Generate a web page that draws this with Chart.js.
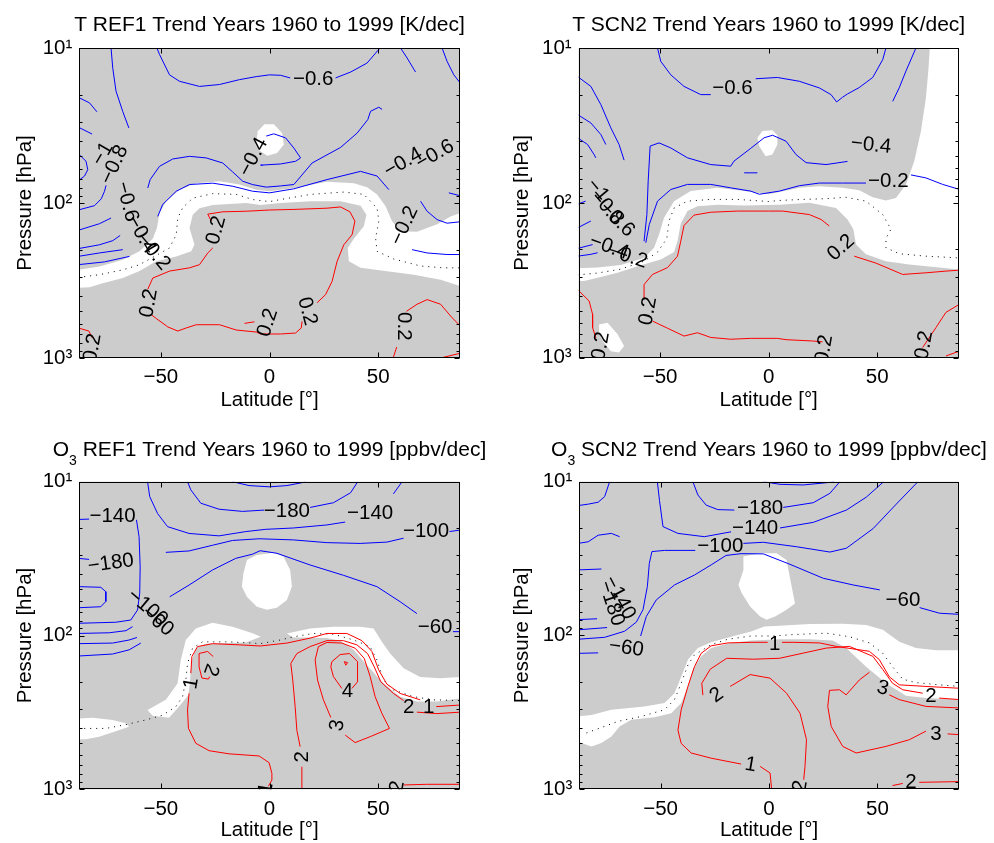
<!DOCTYPE html>
<html>
<head>
<meta charset="utf-8">
<script src="https://cdn.jsdelivr.net/npm/chart.js@4.4.0/dist/chart.umd.min.js"></script>
<style>
body{margin:0;background:#fff;width:994px;height:843px;position:relative;overflow:hidden}
canvas{position:absolute}
</style>
</head>
<body>
<canvas id="pA" width="497" height="420" style="left:0;top:0"></canvas>
<canvas id="pB" width="497" height="420" style="left:497px;top:0"></canvas>
<canvas id="pC" width="497" height="423" style="left:0;top:420px"></canvas>
<canvas id="pD" width="497" height="423" style="left:497px;top:420px"></canvas>
<script>
// axes
const latTicks = [-50, 0, 50];
const presTicks = [10, 100, 1000];
const presMinor = [20,30,40,50,60,70,80,90,200,300,400,500,600,700,800,900];
const latMin = -87.5, latMax = 87.5;

// ---------- T REF1 (K/dec) : [lat, hPa] ----------
const tRefWhite = [
  [[-88,270],[-78.2,257],[-67.5,232],[-59.8,205],[-53.7,170],[-51.8,145],[-50.6,116],[-47.5,97.5],[-41.4,82],[-33.7,74.5],[-23,72.4],[-13.8,76],[-6.1,82],[0,84],[11.2,80],[26.5,73],[38.8,74.5],[44.9,79],[49.5,88],[53.4,105],[56.4,131],[60.3,152],[67.9,153],[77.1,137],[83.3,122],[88,116],[88,345],[78.7,313],[66.4,290],[54.1,276],[41.9,262],[36.5,238],[36,195],[38.8,170],[43.4,141],[44.6,119],[41.9,104],[32.7,97.5],[18.9,97.5],[5.1,100],[-4.1,103],[-10.7,100],[-26.1,103],[-32.2,108],[-35.3,119],[-36.8,145],[-34.5,186],[-36,205],[-42.9,221],[-52.1,238],[-59.8,275],[-67.5,305],[-76.7,330],[-82.8,350],[-88,353]],
  [[-5.4,34.4],[-2.3,31],[2,31],[5.8,35.3],[6.6,42],[3.5,47.6],[-1,49.5],[-4.5,46],[-6,40]]
];
const tRefZero = [[-88,302],[-78.2,290],[-67.5,270],[-59.8,250],[-52.9,221],[-46,195],[-42.9,160],[-42.2,125],[-39.9,107],[-35.3,93],[-26.1,87],[-15.3,88],[-7.7,95],[0,98],[5.1,95],[18.9,88],[34.2,85],[43.4,88],[49.5,108],[50.3,131],[48.8,168],[49.5,205],[57.2,230],[69.5,255],[80.2,262],[88,262]];
const tRefNeg = [
  [[-72.9,10],[-72.1,13.5],[-70.6,19],[-67.5,25.7],[-64.7,32.8]],
  [[-51.8,10],[-50.6,11],[-46,14.9],[-41.4,16.4],[-32.2,17.7],[-23,17.2],[-13.8,16],[-6.1,15.3],[0,14.9],[5.1,15],[9.5,15.6]],
  [[30.4,15.6],[37.3,14.3],[44.9,12.5],[50.3,10.2],[51,10]],
  [[60.3,10],[63.3,11.6],[67.2,14.3]],
  [[79.4,10],[81.7,12.2],[84.8,14.9],[88,17]],
  [[-88,20.8],[-82.8,22.6],[-79.4,25.8]],
  [[-88,32.4],[-81.6,35.9]],
  [[-88,48],[-84.4,53.8],[-83.6,61],[-85.1,67],[-88,72]],
  [[-88,111],[-80.5,104],[-77.4,94],[-75.9,84],[-75.2,77]],
  [[-88,150],[-78.2,136],[-72.9,125]],
  [[-88,197],[-78.2,186],[-72.1,175],[-68.7,162]],
  [[-88,221],[-78.2,210],[-67.5,200]],
  [[-88,250],[-76,240],[-64.4,221]],
  [[-56,80],[-54.9,70.6],[-50.6,58],[-44.5,52],[-36.8,50],[-29.1,51.2],[-21.5,55.2],[-16.9,63.1],[-12.3,72.4],[-7.7,76.1],[-1.5,79],[5.1,77.6],[11.2,76],[19.6,55.2],[32.7,43.8],[40.3,35.4],[45.2,29],[46.5,25.6],[50.3,24.1],[51.8,24.9]],
  [[-3.1,57],[-4.1,57],[5.1,56],[12,53.8],[14.3,51.2],[11.2,44.2],[7.4,38],[2,35.8],[-1.5,37]],
  [[-51.4,122],[-49.1,102],[-42.9,84],[-36.8,76],[-26.1,74.5],[-16.9,78],[-7.7,84],[0,86],[11.2,81],[26.5,70.6],[41.9,62.5],[49.5,67],[54.9,82]],
  [[82.5,86],[88,90]],
  [[69.5,97.5],[72.5,113],[77.1,128],[81.7,135],[88,132]],
  [[65.6,200],[72.5,210],[81.7,215],[88,215]]
];
const tRefPos = [
  [[-26.8,131],[-28.4,118],[-21.5,114],[-10.7,113],[0,111],[11.2,110],[26.5,108],[32.7,106],[37,114],[39.3,131],[38,160],[34.2,186],[31.1,238],[28.8,320],[25.8,390],[21.9,440]],
  [[15,580],[14.6,640],[12,690],[5.1,700],[-4.1,700],[-6.1,680],[-15.3,660],[-23,610],[-33.7,610],[-38.3,640],[-42.2,670],[-46.8,630],[-52.1,556],[-54.4,525]],
  [[-56,360],[-53.7,305],[-46,275],[-36.8,262],[-32.2,250],[-28.4,210],[-26.1,195]],
  [[-11.5,598],[-6.9,584]],
  [[-88,640],[-83.1,670],[-81.6,740]],
  [[56.9,1000],[58.5,850]],
  [[63,500],[67.9,450],[72.5,420],[78.7,450],[84,550],[88,625]],
  [[78.7,1000],[88,930]]
];
const tRefLabels = [
  ['\u22120.6',20.1,16,0],['\u22121',-76.7,48.3,-60],['\u22120.8',-71.3,56.6,-65],['\u22120.6',-65.6,98,75],
  ['\u22120.4',-59,160,60],['\u22120.2',-53.4,207,50],['\u22120.4',-7.4,50.6,-62],['0.2',-24.5,150,-75],
  ['0.2',-55.5,443,-80],['0.2',-0.8,592,-72],['0.2',17.3,500,75],['0.2',-81.3,860,-80],['0.2',61.5,625,90],
  ['\u22120.4',61.5,55,-30],['\u22120.6',76.1,48.8,-30],['\u22120.2',62.1,140,-65]
];

// ---------- T SCN2 (K/dec) ----------
const tScnWhite = [
  [[-88,265],[-78.8,262],[-68.1,252],[-57.4,227],[-52.8,195],[-50.5,160],[-48.2,125],[-43.6,97.5],[-35.9,84],[-23.6,80],[-11.3,84],[0,88],[4.9,85],[14.1,80],[23.3,78],[34,80],[41.7,83],[47.9,92],[54,96.5],[58.6,93],[63.2,76],[67,54],[70.1,34.5],[72.4,21],[73.6,13.5],[74.2,10],[88,10],[88,270],[78.5,262],[64.7,250],[54,238],[44.8,215],[40.2,186],[39,148],[36.3,128],[31,108],[18.7,100],[4.9,103],[-11.3,104],[-23.6,103],[-32.8,105],[-37.4,113],[-40.5,136],[-42,177],[-43.6,208],[-49.7,232],[-60.4,257],[-69.6,283],[-78.8,305],[-85,320],[-88,320]],
  [[-5.2,38],[-2.9,34.4],[1.7,34],[4,36.6],[4,42],[1.7,48.8],[-1.4,50],[-4.4,43]],
  [[-78.1,610],[-74.2,595],[-69.6,706],[-66.6,840],[-68.9,925],[-72.7,910],[-76.5,780],[-78.1,675]]
];
const tScnZero = [[-88,292],[-78.8,284],[-68.1,268],[-57.4,238],[-51.2,208],[-46.9,170],[-45.9,131],[-43.6,108],[-37.4,97.5],[-26.7,95],[-14.4,95],[0,98],[4.9,96.5],[15.6,95],[26.4,94],[35.6,92],[44.8,97.5],[52.5,119],[56.3,148],[54,170],[54,195],[60.1,213],[72.4,221],[88,227]];
const tScnNeg = [
  [[-51.2,10],[-49.7,12.2],[-45.1,14.9],[-39,17.7],[-31.3,20],[-26.7,20]],
  [[-6,15.8],[4,15.5],[14.1,16.4],[23.3,18.1],[28.7,20],[31.3,22.3],[34,20.8],[36.3,19.8],[41.7,18],[47.9,15.5],[52.5,11.9],[54,10]],
  [[67.8,10],[63.2,14.1],[60.1,18.1],[57.1,22.1]],
  [[-88,15.3],[-81.9,17.7],[-77.3,23.2],[-72.7,32.8],[-68.9,42],[-66.6,53]],
  [[-88,26.9],[-81.9,30.5],[-77.3,36.2],[-75,42]],
  [[-88,38],[-83.4,42],[-80.4,48.8],[-79.6,51.2]],
  [[-88,102],[-84.3,97.5]],
  [[-88,145],[-81.9,131]],
  [[-88,197],[-81.1,186]],
  [[-88,221],[-81.9,215],[-78.8,210]],
  [[-57.4,177],[-56.1,119],[-55.5,72.4],[-54.6,43],[-50.5,41],[-45.1,44.2],[-37.4,51.2],[-26.7,56.6],[-17.5,58],[-16,53.8],[-8.3,44.5],[-2.1,38],[1.8,36.6],[8,40],[12.6,48.8],[17.2,55],[26.4,56.6],[36.3,54]],
  [[-11.3,64],[-5.2,64]],
  [[-56.6,181],[-55,138],[-51.2,97.5],[-45.1,82],[-37.4,76],[-26.7,76],[-17.5,80],[-8.3,84],[-4.3,88],[4.9,84],[14.1,77.5],[23.3,74.5],[34,74.5],[44.8,74.5]],
  [[65.5,66],[72.4,69],[80.1,76],[88,82]]
];
const tScnPos = [
  [[-88,363],[-82.7,430],[-81.1,525],[-81.1,640],[-79.6,745]],
  [[-57.4,420],[-57.4,337],[-53.5,290],[-46.6,262],[-42,221],[-40.5,177],[-39,140],[-34.4,120],[-26.7,115],[-14.4,113],[0,113],[6.4,113],[18.7,119],[24.1,128],[27.9,141]],
  [[39.4,221],[49.4,245],[61.7,290],[72.4,283],[81.6,276],[88,272]],
  [[-53.5,580],[-46.6,645],[-39,725],[-32.8,690],[-26.7,740],[-17.5,760],[-8.3,750],[4,750],[8,765],[20.2,780],[24.8,790]],
  [[70.9,860],[77,640],[81.6,510],[88,450]],
  [[81.6,975],[88,905]]
];
const tScnLabels = [
  ['\u22120.6',-16.7,18.3,0],['\u22120.4',47.1,42.5,6],['\u22120.2',55.1,72.4,0],
  ['\u22121',-78.8,83,50],['\u22120.8',-74.5,107,50],['\u22120.6',-69.9,128,45],
  ['\u22120.4',-73.5,193,20],['\u22120.2',-65,222,18],
  ['0.2',-55.5,500,-80],['0.2',33.3,195,-42],['0.2',-77.3,840,-80],['0.2',25.6,880,-80],['0.2',71.6,830,-80]
];

// ---------- O3 REF1 (ppbv/dec) ----------
const oRefWhite = [
  [[-88,347],[-81.4,342],[-72.2,354],[-66.1,372],[-64.6,392],[-70.7,420],[-78.4,455],[-84.5,473],[-88,473]],
  [[-56.1,305],[-47.7,262],[-42.3,205],[-40.8,144],[-38.5,107],[-33.9,90],[-26.2,82.5],[-17,87.6],[-7.8,96.8],[-4,102],[-10.9,111],[-20.1,112],[-29.3,113],[-33.9,121],[-35.9,148],[-36.5,195],[-37.3,244],[-41.6,290],[-46.2,342],[-53.8,333]],
  [[8,97],[18.7,90],[29.4,87.6],[41.7,87.6],[47.9,90],[51.7,110],[55.5,131],[61.7,163],[69.3,186],[78.5,190],[88,186],[88,256],[77,269],[67.8,269],[60.1,250],[52.5,205],[44.8,156],[38.7,124],[32.5,108],[26.4,104],[18.7,103],[11,103]],
  [[-10.4,32.3],[-5.8,30],[1.8,29],[6.4,30.7],[9.5,37.5],[10.3,48.1],[8,58.8],[3.4,66],[-1.2,68],[-5.8,65],[-10.4,56],[-12.7,48.1],[-12,39.4]]
];
const oRefZero = [[-88,402],[-75.3,402],[-66.1,380],[-56.9,354],[-49.2,330],[-43.1,290],[-40,250],[-38.5,195],[-37.7,152],[-35.4,121],[-30.8,110],[-18.6,110],[-7.8,112],[-4.3,113],[4.9,107],[11,102],[20.2,97],[29.4,98],[38.7,107],[46.3,118],[49.4,144],[52.5,195],[57,226],[66.3,250],[75.5,262],[88,265]];
const oRefNeg = [
  [[-88,17.6],[-83,17.5]],
  [[-61.2,17.7],[-60,22.8],[-59.5,35.7],[-59.7,53],[-60.7,68.2],[-63.8,79.3],[-70.7,82],[-88,83.3]],
  [[-88,31.5],[-83,32]],
  [[-88,48.1],[-77.6,48.6],[-75.3,51.9],[-75.3,60],[-77.6,65],[-88,66]],
  [[-88,97],[-73.7,96],[-66,93],[-63,87.6]],
  [[-88,113],[-72.2,112],[-64.6,107],[-61,103]],
  [[-88,136],[-72.2,132],[-64.6,124],[-59.2,112]],
  [[-45.9,56],[-37,47],[-26.2,37.5],[-15.5,31.5],[-7.8,29.6],[-4.3,28.1],[3.4,29.2],[18.7,34.8],[34,40.6],[49.4,48.1],[60.1,60.3],[67.8,72]],
  [[84.4,94.4],[88,94.4]],
  [[-47.7,28.8],[-37,28.2],[-26.2,25.9],[-17,24.1],[-4.8,23.5],[11,23.9],[26.4,24.9],[41.7,25.2],[54,24.7],[61.7,23.3]],
  [[82.8,21.1],[88,20.6]],
  [[-56.1,10],[-55.1,12.5],[-51.5,16.1],[-46.9,19.6],[-37,21.7],[-23.2,22.5],[-10.9,21.1],[-1.7,20.4],[11,20],[26.4,19.1],[34.8,18.3]],
  [[57,12],[61,10]],
  [[-37.7,10],[-36.2,11.3],[-31.6,13.8],[-23.2,15.1],[-12.4,15.6],[-2.5,15.3]],
  [[18.7,14.7],[29.4,13.7],[37.3,11.8],[40.6,10]],
  [[-17,10],[-9.4,10.6],[0,10.8],[8,10.6],[15.6,10.1],[16.5,10]]
];
const oRefPos = [
  [[-0.5,955],[1.1,870],[1.1,787],[-0.2,671],[-4.8,607],[-18.6,588],[-27.8,561],[-33.9,502],[-37.3,401],[-37.7,305],[-37,238]],
  [[-36.2,176],[-35.7,137],[-33.1,118],[-26.2,113],[-14,115],[-4.3,117],[8,112],[18.7,104],[26.4,97],[35.6,97],[42.5,108],[47.1,127],[50.2,167],[54,207],[60.1,238],[69.3,262]],
  [[76.7,290],[88,283]],
  [[14.9,1000],[14.9,713]],
  [[14.1,528],[12.6,414],[11.8,290],[10.7,195],[9.8,152],[12.6,131],[18.7,118],[26.4,108],[34,108],[40.2,115],[45.1,131],[48.2,160],[51.2,200],[57,238],[61.7,265]],
  [[67.8,315],[77,322],[88,315]],
  [[28.2,341],[24.8,262],[22.1,195],[21,144],[22.5,118],[26.4,111],[33.3,112],[39.4,121],[43.6,141],[46.3,185],[48.6,250],[51.7,321],[55.2,402],[46.3,455],[39.4,497],[34.8,444]],
  [[37.9,221],[40.5,200],[40.5,148],[36.8,131],[32.5,133],[28.7,148],[28.2,160],[29.4,185],[33.3,221]],
  [[34.4,148],[35.9,150],[35.1,156],[34.4,148]],
  [[-27.5,185],[-28.1,192],[-31.1,189],[-32.4,160],[-32.4,131],[-28.5,127],[-25.9,137]],
  [[61.7,937],[72.4,928],[88,928]]
];
const oRefLabels = [
  ['\u2212140',-72.2,16.7,0],['\u2212180',-73,34,-8],['\u2212100',-56.1,66,40],['\u221260',-51.5,81,40],
  ['\u2212180',8,15.6,0],['\u2212140',46.3,16.1,0],['\u2212100',72,21,0],['\u221260',76.2,88.5,0],
  ['1',-35.9,205,-80],['2',-27,167,110],['4',35.9,232,0],['3',31.3,384,-80],['2',14.9,614,-90],
  ['2',64,292,0],['1',73.2,292,0],['1',-1.5,985,-80],['2',58.9,960,-80]
];

// ---------- O3 SCN2 (ppbv/dec) ----------
const oScnWhite = [
  [[-11.8,30.7],[-4.1,29.2],[3.5,29.2],[8.1,32.3],[9.7,42.5],[12,62],[8.1,68.2],[2.8,75.4],[-1.1,79.3],[-4.1,75.4],[-8.7,65],[-12.6,53],[-14.1,47],[-11.8,37.5]],
  [[-88,337],[-81.9,330],[-72.7,305],[-57.4,290],[-48.2,276],[-43.6,238],[-40.5,186],[-37.4,144],[-32.8,121],[-26.7,111],[-17.5,102],[-8.3,94.4],[-2.1,87.6],[4.9,86.7],[18.7,84.5],[34,84],[44.8,85.5],[52.5,92],[60.1,110],[67.8,121],[77,125],[88,125],[88,262],[72.4,256],[63.2,247],[54,205],[44.8,160],[35.6,121],[29.4,108],[18.7,106],[4.9,106],[-8.3,108],[-19,113],[-26.7,121],[-31.3,137],[-35.1,167],[-37.4,215],[-40.5,276],[-45.1,321],[-52.8,341],[-63.5,354],[-68.9,392],[-72.7,455],[-77.3,502],[-81.9,528],[-86.5,502],[-88,490]]
];
const oScnZero = [[-84.2,432],[-69.6,363],[-58.9,337],[-48.2,305],[-43.6,262],[-40.5,205],[-37.4,156],[-34.4,134],[-26.7,115],[-19,106],[-8.3,101],[1.8,101],[11,98.9],[26.4,96.8],[37.1,102],[46.3,112],[52.5,131],[57,160],[61.7,193],[67.8,203],[78.5,210],[88,215]];
const oScnNeg = [
  [[-73.5,10],[-75.8,12.5],[-78.8,13.6],[-83.4,14],[-88,14.3]],
  [[-88,25.2],[-83.4,24.6],[-78.8,22.3],[-72.7,21.7],[-68.9,22.8]],
  [[-88,37.5],[-77.3,37]],
  [[-88,79],[-79.3,78]],
  [[-88,92],[-74.7,89]],
  [[-88,106],[-75.8,103],[-66.6,94],[-61.2,82],[-58.1,68],[-56.1,48],[-55.2,34],[-54,28.5],[-48.2,28],[-34,28]],
  [[-11.8,25.2],[-2.6,24.8],[12.7,26.5],[28.1,28.7],[35.7,27.1],[48,20.2],[58.7,14],[68.7,10]],
  [[-51.5,10],[-50.5,13.3],[-48.9,19.6],[-42,21.7],[-29.8,22.8],[-17.5,21.2]],
  [[5.1,20],[20.4,18.4],[35.7,15.3],[44.9,12.6],[52.9,10]],
  [[-35.1,10],[-32.8,12.2],[-29,14.2],[-23.6,15.2],[-16,15.3]],
  [[6.6,14.7],[20.4,13.7],[28.1,11.9],[32.7,10]],
  [[-2.6,10],[5.1,10.4],[15.8,10.5],[28.1,10.1],[30,10]],
  [[-88,131],[-78.8,130]],
  [[-59.2,101],[-56.6,75.4],[-52,58.8],[-43.6,47],[-34.4,40.5],[-26.7,34.8],[-19.8,30.2],[-12.9,29.4],[-2.6,29.5],[9.7,34.5],[25,42.5],[38.8,47],[51.1,50.6]],
  [[69.5,66],[78.7,71.8],[88,73]]
];
const oScnPos = [
  [[1.2,1000],[0.5,787],[-4.1,713]],
  [[-12.9,688],[-26.7,630],[-35.9,583],[-40.5,505],[-42,414],[-40.5,305],[-37.4,215],[-34.4,160],[-31.3,131],[-26.7,117],[-19,112],[-8.3,111],[-0.6,111]],
  [[6,111],[11,111],[23.3,112],[31,118],[46.3,127],[50.9,144],[55.5,186],[60.1,210],[72.4,215],[88,221]],
  [[16,870],[16.6,713],[17.3,478],[14.3,321],[8.1,238],[0.5,190],[-8.7,180],[-17.9,215]],
  [[-30.5,245],[-31,205],[-27.1,166],[-19.5,141],[-7.2,143],[4.9,141],[26.4,121],[37.1,118],[47.9,137],[52.5,167],[57,205],[61.7,226],[70.9,238]],
  [[78.5,256],[88,262]],
  [[88,297],[72.4,290],[60.1,262],[55.5,244]],
  [[46.3,174],[41.7,195],[35.6,244],[32.5,226],[27.9,228],[27.1,290],[28.7,392],[34,528],[40.2,583],[54,528],[64.7,478],[72.4,420]],
  [[82.4,438],[88,443]],
  [[57,950],[61.7,920]],
  [[69.3,905],[88,895]]
];
const oScnLabels = [
  ['\u2212180',-4.1,14.9,0],['\u2212140',-6.4,20,0],['\u2212100',-22.5,26.5,0],['\u221260',61.8,58.8,0],
  ['\u2212140',-68.9,57,62],['\u2212180',-72.7,62,72],['\u221260',-65.8,121,8],
  ['1',2.6,115,0],['1',-8.5,697,10],['2',-24.1,245,-35],['2',74.7,250,0],['3',52.5,221,15],
  ['3',77,443,0],['2',65.5,905,0],['2',14.5,960,-80]
];

const FONT = '"Liberation Sans", Arial, Helvetica, sans-serif';
const SUP = {1: '\u00b9', 2: '\u00b2', 3: '\u00b3'};
Chart.defaults.font.family = FONT;
Chart.defaults.color = '#000';

function pts(a) {
  return a.map(function (q) { return {x: q[0], y: q[1]}; });
}

// grey shading, contour labels, frame, inward ticks and title
const panelDeco = {
  id: 'panelDeco',
  beforeDatasetsDraw: function (chart) {
    const a = chart.chartArea, ctx = chart.ctx;
    ctx.save();
    ctx.fillStyle = '#cccccc';
    ctx.fillRect(a.left, a.top, a.right - a.left, a.bottom - a.top);
    ctx.restore();
  },
  afterDatasetsDraw: function (chart) {
    const a = chart.chartArea, ctx = chart.ctx;
    const xs = chart.scales.x, ys = chart.scales.y;
    const o = chart.options.plugins.panelDeco;
    // contour labels
    ctx.save();
    ctx.beginPath();
    ctx.rect(a.left, a.top, a.right - a.left, a.bottom - a.top);
    ctx.clip();
    ctx.fillStyle = '#000';
    ctx.font = '20.5px ' + FONT;
    ctx.textAlign = 'center';
    ctx.textBaseline = 'middle';
    o.labels.forEach(function (l) {
      ctx.save();
      ctx.translate(xs.getPixelForValue(l[1]), ys.getPixelForValue(l[2]));
      ctx.rotate(l[3] * Math.PI / 180);
      ctx.fillText(l[0], 0, 0);
      ctx.restore();
    });
    ctx.restore();
    // frame + ticks
    ctx.save();
    ctx.strokeStyle = '#000';
    ctx.lineWidth = 1;
    const L = Math.round(a.left) + 0.5, R = Math.round(a.right) - 0.5;
    const T = Math.round(a.top) + 0.5, B = Math.round(a.bottom) - 0.5;
    ctx.strokeRect(L, T, R - L, B - T);
    ctx.beginPath();
    latTicks.forEach(function (v) {
      const x = Math.round(xs.getPixelForValue(v)) + 0.5;
      ctx.moveTo(x, B); ctx.lineTo(x, B - 5);
      ctx.moveTo(x, T); ctx.lineTo(x, T + 5);
    });
    presTicks.forEach(function (v) {
      const y = Math.round(ys.getPixelForValue(v)) + 0.5;
      ctx.moveTo(L, y); ctx.lineTo(L + 5, y);
      ctx.moveTo(R, y); ctx.lineTo(R - 5, y);
    });
    presMinor.forEach(function (v) {
      const y = Math.round(ys.getPixelForValue(v)) + 0.5;
      ctx.moveTo(L, y); ctx.lineTo(L + 3, y);
      ctx.moveTo(R, y); ctx.lineTo(R - 3, y);
    });
    ctx.stroke();
    ctx.restore();
  },
  afterDraw: function (chart) {
    const a = chart.chartArea, ctx = chart.ctx;
    const o = chart.options.plugins.panelDeco;
    ctx.save();
    ctx.fillStyle = '#000';
    ctx.textBaseline = 'alphabetic';
    ctx.textAlign = 'left';
    const big = '21px ' + FONT, small = '14px ' + FONT;
    ctx.font = big;
    const wPre = ctx.measureText(o.pre).width;
    const wRest = ctx.measureText(o.rest).width;
    ctx.font = small;
    const wSub = o.sub ? ctx.measureText(o.sub).width : 0;
    let x = (a.left + a.right) / 2 - (wPre + wSub + wRest) / 2;
    ctx.font = big;
    ctx.fillText(o.pre, x, o.titleY);
    x += wPre;
    if (o.sub) {
      ctx.font = small;
      ctx.fillText(o.sub, x, o.titleY + 9);
      x += wSub;
      ctx.font = big;
    }
    ctx.fillText(o.rest, x, o.titleY);
    ctx.restore();
  }
};

function makePanel(id, box, pre, sub, rest, white, zero, neg, pos, labels) {
  const ds = [];
  white.forEach(function (w) {
    ds.push({data: pts(w), showLine: true, fill: 'shape', backgroundColor: '#ffffff',
      borderWidth: 0, pointRadius: 0, order: 3});
  });
  ds.push({data: pts(zero), showLine: true, fill: false, borderColor: '#000000', borderWidth: 1,
    borderDash: [1, 5], pointRadius: 0, order: 2});
  neg.forEach(function (l) {
    ds.push({data: pts(l), showLine: true, fill: false, borderColor: '#0000ff', borderWidth: 1, pointRadius: 0, order: 1});
  });
  pos.forEach(function (l) {
    ds.push({data: pts(l), showLine: true, fill: false, borderColor: '#ff0000', borderWidth: 1, pointRadius: 0, order: 1});
  });

  new Chart(document.getElementById(id).getContext('2d'), {
    type: 'scatter',
    data: {datasets: ds},
    options: {
      responsive: false,
      animation: false,
      events: [],
      layout: {padding: {left: 4, top: box.top, right: box.W - box.right, bottom: box.pb}},
      scales: {
        x: {
          type: 'linear', min: latMin, max: latMax,
          afterFit: function (s) { s.height = box.H - box.pb - box.bottom; },
          afterBuildTicks: function (s) { s.ticks = latTicks.map(function (v) { return {value: v}; }); },
          ticks: {autoSkip: false, maxRotation: 0, padding: box.tkPad, font: {size: 20.5},
            callback: function (v) { return v < 0 ? '\u2212' + Math.abs(v) : String(v); }},
          grid: {display: false, drawTicks: false},
          border: {display: false},
          title: {display: true, text: 'Latitude [\u00b0]', font: {size: 20.5, lineHeight: 1},
            padding: {top: 0, bottom: box.tpad}}
        },
        y: {
          type: 'logarithmic', min: 10, max: 1000, reverse: true,
          afterFit: function (s) { s.width = box.left - 4; },
          afterBuildTicks: function (s) { s.ticks = presTicks.map(function (v) { return {value: v}; }); },
          ticks: {autoSkip: false, padding: 7, font: {size: 20.5},
            callback: function (v) { return '10' + SUP[Math.round(Math.log10(v))]; }},
          grid: {display: false, drawTicks: false},
          border: {display: false},
          title: {display: true, text: 'Pressure [hPa]', font: {size: 20.5, lineHeight: 1},
            padding: {top: 11, bottom: 0}}
        }
      },
      plugins: {
        legend: {display: false},
        tooltip: {enabled: false},
        panelDeco: {labels: labels, pre: pre, sub: sub, rest: rest, titleY: box.titleY}
      }
    },
    plugins: [panelDeco]
  });
}

makePanel('pA', {W: 497, H: 420, left: 79.3, right: 459.7, top: 48, bottom: 358, pb: 4, tpad: 5, tkPad: 7, titleY: 31},
  'T REF1 Trend Years 1960 to 1999 [K/dec]', '', '', tRefWhite, tRefZero, tRefNeg, tRefPos, tRefLabels);
makePanel('pB', {W: 497, H: 420, left: 81.7, right: 461.7, top: 48, bottom: 357.7, pb: 4, tpad: 5, tkPad: 7, titleY: 31},
  'T SCN2 Trend Years 1960 to 1999 [K/dec]', '', '', tScnWhite, tScnZero, tScnNeg, tScnPos, tScnLabels);
makePanel('pC', {W: 497, H: 423, left: 79.3, right: 459.7, top: 61.7, bottom: 369.3, pb: 0, tpad: 2, tkPad: 8, titleY: 35.7},
  'O', '3', ' REF1 Trend Years 1960 to 1999 [ppbv/dec]', oRefWhite, oRefZero, oRefNeg, oRefPos, oRefLabels);
makePanel('pD', {W: 497, H: 423, left: 82.3, right: 461.7, top: 61.7, bottom: 369, pb: 0, tpad: 2, tkPad: 8, titleY: 35.7},
  'O', '3', ' SCN2 Trend Years 1960 to 1999 [ppbv/dec]', oScnWhite, oScnZero, oScnNeg, oScnPos, oScnLabels);
</script>
</body>
</html>
